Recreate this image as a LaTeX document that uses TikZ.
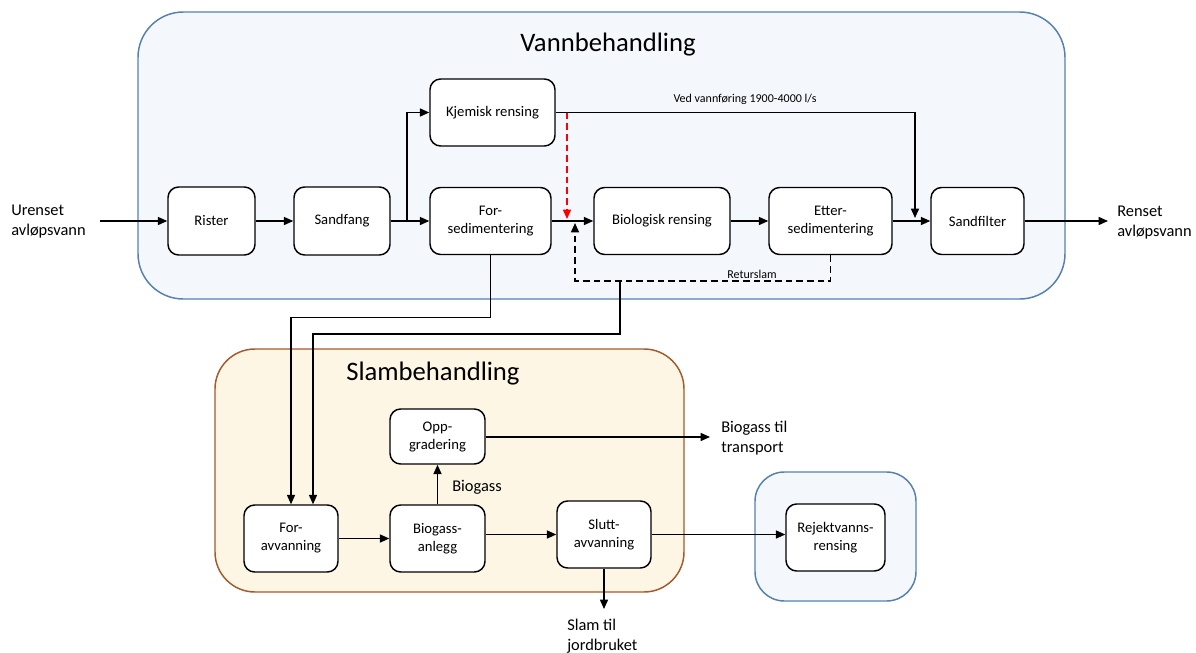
\documentclass[tikz,border=0pt]{standalone}
\usepackage{fontspec}
\setmainfont{Carlito}
\usetikzlibrary{arrows.meta}
\definecolor{vannfill}{HTML}{F4F7FC}
\definecolor{vanndraw}{HTML}{5581B0}
\definecolor{slamfill}{HTML}{FEF6E5}
\definecolor{slamdraw}{HTML}{A35A2C}
\begin{document}
\begin{tikzpicture}[x=0.75pt,y=-0.75pt,
  proc/.style={draw=black, line width=1.1pt, fill=white, rounded corners=8pt,
    align=center, inner sep=0pt, font=\fontsize{11}{13.5}\selectfont},
  flow/.style={line width=1.1pt, -{Triangle[length=7pt,width=6pt]}},
  plain/.style={line width=1.1pt},
  extlabel/.style={align=left, anchor=west, inner sep=0pt, font=\fontsize{12.3}{14.8}\selectfont},
  smalllabel/.style={inner sep=0pt, font=\fontsize{9}{11}\selectfont},
  title/.style={inner sep=0pt, font=\fontsize{20}{24}\selectfont},
  area/.style={line width=1.1pt}]
\useasboundingbox (0,0) rectangle (1196,653);

% process areas
\draw[area, draw=vanndraw, fill=vannfill, rounded corners=34pt] (138,12) rectangle (1065,299);
\draw[area, draw=slamdraw, fill=slamfill, rounded corners=30pt] (215,349) rectangle (684,592);
\draw[area, draw=vanndraw, fill=vannfill, rounded corners=22pt] (755,472) rectangle (916,601);

\node[title] (vanntitle) at (608,45) {Vannbehandling};
\node[title, anchor=west] (slamtitle) at (346,374) {Slambehandling};

% water treatment line
\node[proc, minimum width=65.25pt, minimum height=51pt]    (rister)   at (211.5,221) {Rister};
\node[proc, minimum width=72pt, minimum height=51pt]       (sandfang) at (342,221) {Sandfang};
\node[proc, minimum width=93.75pt, minimum height=50.25pt] (kjemisk)  at (492.5,112.5) {Kjemisk rensing};
\node[proc, minimum width=90.75pt, minimum height=50.25pt] (forsed)   at (490.5,221) {For-\\sedimentering};
\node[proc, minimum width=102pt, minimum height=50.25pt]   (bio)      at (662,221) {Biologisk rensing};
\node[proc, minimum width=92.25pt, minimum height=50.25pt] (etter)    at (830.5,221) {Etter-\\sedimentering};
\node[proc, minimum width=69.75pt, minimum height=50.25pt] (sandfilter) at (977.5,221) {Sandfilter};

% sludge treatment line
\node[proc, minimum width=70.5pt, minimum height=50.25pt]  (foravv)   at (291,538.5) {For-\\avvanning};
\node[proc, minimum width=71.25pt, minimum height=50.25pt] (biogass)  at (437.5,538.5) {Biogass-\\anlegg};
\node[proc, minimum width=71.25pt, minimum height=41.25pt] (opp)      at (437.5,436.5) {Opp-\\gradering};
\node[proc, minimum width=70.5pt, minimum height=50.25pt]  (slutt)    at (604,534.5) {Slutt-\\avvanning};
\node[proc, minimum width=74.25pt, minimum height=50.25pt] (rejekt)   at (835.5,537.5) {Rejektvanns-\\rensing};

% external labels
\node[extlabel] (urenset) at (11,221.5) {Urenset\\avløpsvann};
\node[extlabel] (renset)  at (1117,222.5) {Renset\\avløpsvann};
\node[extlabel] (biotrans) at (721,438) {Biogass til\\transport};
\node[extlabel] (slamtil) at (567,636) {Slam til\\jordbruket};
\node[extlabel] (biogasslbl) at (452,487) {Biogass};
\node[smalllabel] (vedlbl) at (745,99) {Ved vannføring 1900-4000 l/s};
\node[smalllabel] (retlbl) at (752,274.5) {Returslam};

% free ends and bends
\coordinate (inn)    at (100,221);
\coordinate (ut)     at (1108,221);
\coordinate (branch) at (407,221);
\coordinate (kjdown) at (915,218);
\coordinate (redtop) at (567,112.5);
\coordinate (redbot) at (567,219);
\coordinate (retbot) at (830.5,281);
\coordinate (retend) at (575,223);
\coordinate (tap)    at (620,281);
\coordinate (bendA)  at (313,334);
\coordinate (bendB)  at (291,317.5);
\coordinate (gasout) at (710,437);
\coordinate (slamout) at (604,609);

% water flow
\draw[flow] (inn) -- (rister);
\draw[flow] (rister) -- (sandfang);
\draw[flow] (sandfang) -- (forsed);
\draw[flow] (branch) |- (kjemisk.west);
\draw[flow] (kjemisk.east) -| (kjdown);
\draw[flow, red, dashed, dash pattern=on 5pt off 3pt] (redtop) -- (redbot);
\draw[flow] (forsed) -- (bio);
\draw[flow] (bio) -- (etter);
\draw[flow] (etter) -- (sandfilter);
\draw[flow] (sandfilter) -- (ut);

% return sludge
\draw[flow, dashed, dash pattern=on 5pt off 3pt] (etter.south) -- (retbot) -| (retend);

% sludge to dewatering
\draw[flow] (tap) |- (bendA) -- (bendA |- foravv.north);
\draw[flow] (forsed.south) |- (bendB) -- (bendB |- foravv.north);

% sludge flow
\draw[flow] (foravv) -- (biogass);
\draw[flow] (biogass) -- (opp);
\draw[flow] (biogass.east |- slutt) -- (slutt.west);
\draw[flow] (slutt.east) -- (slutt.east -| rejekt.west);
\draw[flow] (opp.east |- gasout) -- (gasout);
\draw[flow] (slutt.south) -- (slamout);
\end{tikzpicture}
\end{document}
